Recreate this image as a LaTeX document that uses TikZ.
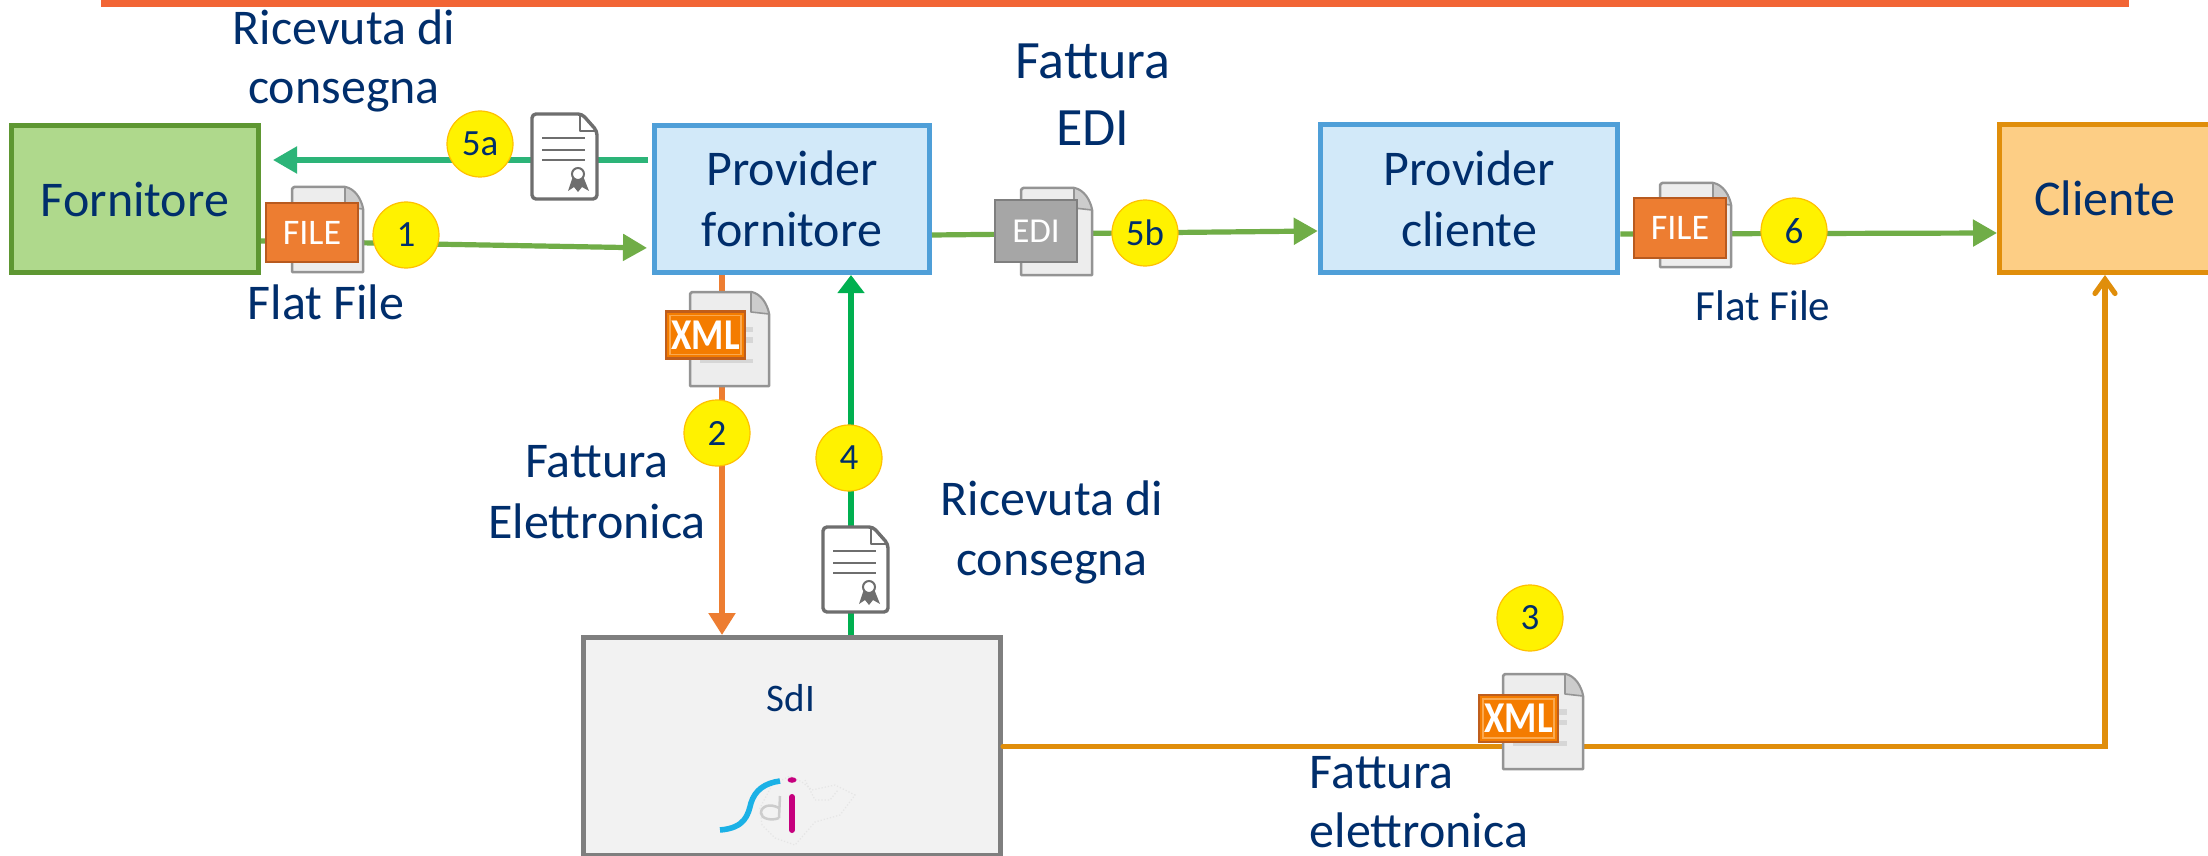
\documentclass[tikz,border=0pt]{standalone}
\usepackage{fontspec}
\setmainfont{Carlito}
\usetikzlibrary{arrows.meta,calc}
\definecolor{ink}{HTML}{002E6C}
\definecolor{barc}{HTML}{F26535}
\definecolor{gs}{HTML}{5E9732}\definecolor{gf}{HTML}{AFD98C}
\definecolor{bs}{HTML}{4F9FD8}\definecolor{bf}{HTML}{D2E9F9}
\definecolor{os}{HTML}{E08E0B}\definecolor{of}{HTML}{FDCE85}
\definecolor{gys}{HTML}{7F7F7F}\definecolor{gyf}{HTML}{F2F2F2}
\definecolor{lg}{HTML}{70AD47}\definecolor{teal}{HTML}{2CB478}\definecolor{dg}{HTML}{00B050}
\definecolor{org}{HTML}{ED7D31}\definecolor{xmlf}{HTML}{F47C00}\definecolor{files}{HTML}{B85A1F}
\definecolor{xmlin}{HTML}{FBA94F}
\definecolor{ypen}{HTML}{FFC000}\definecolor{certc}{HTML}{6E6E6E}
\definecolor{logoc}{HTML}{1BB1E6}\definecolor{logom}{HTML}{C6007E}
\newcommand{\sheet}[4]{%
 \draw[line width=1.25pt,draw=black!42,fill=black!7,line join=round]
  (#1+2,#2)--(#1+#3-18,#2) .. controls (#1+#3-8,#2+2) and (#1+#3-2,#2+12) .. (#1+#3,#2+22)--(#1+#3,#2+#4)--(#1,#2+#4)--(#1,#2+2)--cycle;
 \draw[line width=.8pt,draw=black!42,fill=black!20,line join=round]
  (#1+#3-18,#2)--(#1+#3-18,#2+20)--(#1+#3,#2+22) .. controls (#1+#3-2,#2+12) and (#1+#3-8,#2+2) .. cycle;}
\newcommand{\xmlbars}[4]{%
 \fill[black!16] (#1+10,#2+.37*#4) rectangle (#1+.8*#3,#2+.43*#4);
 \fill[black!16] (#1+10,#2+.48*#4) rectangle (#1+.8*#3,#2+.54*#4);
 \fill[black!16] (#1+10,#2+.71*#4) rectangle (#1+.8*#3,#2+.76*#4);}
\newcommand{\cert}[2]{%
 \draw[line width=1.7pt,draw=certc,fill=white,rounded corners=2pt,line join=round]
  (#1,#2)--(#1+50,#2)--(#1+65,#2+17)--(#1+65,#2+85)--(#1,#2+85)--cycle;
 \draw[line width=1.3pt,draw=certc,line join=round] (#1+48,#2+1)--(#1+48,#2+17)--(#1+64,#2+17);
 \draw[line width=1pt,draw=certc]
  (#1+10,#2+24)--(#1+53,#2+24) (#1+10,#2+36)--(#1+53,#2+36) (#1+10,#2+46)--(#1+53,#2+46);
 \fill[certc] (#1+41,#2+62)--(#1+36,#2+77)--(#1+42,#2+73)--(#1+46,#2+78)--(#1+50,#2+73)--(#1+57,#2+77)--(#1+51,#2+62)--cycle;
 \draw[line width=1pt,draw=certc,fill=white] (#1+46,#2+60) circle[radius=6];}
\tikzset{
 x=0.5pt,y=-0.5pt,
 every node/.style={text=ink,font=\fontsize{25}{30.5}\selectfont,inner sep=0pt,outer sep=0pt},
 boxnode/.style={draw,line width=2.5pt,minimum height=73.5pt,align=center,outer sep=1.25pt},
 label/.style={align=center},
 badge/.style={circle,draw=ypen,line width=.6pt,fill=yellow,minimum size=33pt,font=\fontsize{18.5}{20}\selectfont},
 tagbox/.style={draw,line width=1.2pt,text=white,font=\fontsize{18}{20}\selectfont},
 xmltag/.style={tagbox,draw=files!90!orange,fill=xmlf,font=\fontsize{22}{24}\selectfont\bfseries,minimum width=39.5pt,minimum height=23.5pt},
 xmlrim/.style={draw=xmlin,line width=.8pt},
 conn/.style={line width=2.6pt},
 head/.style={-{Triangle[length=12pt,width=13pt]}},
}
\begin{document}
\begin{tikzpicture}
\useasboundingbox (0,0) rectangle (2208,856);
\clip (0,0) rectangle (2208,856);
\fill[white] (0,0) rectangle (2208,856);
\fill[barc] (101,-2) rectangle (2129,7);
% boxes
\node[boxnode,draw=gs,fill=gf,minimum width=123.5pt] (forn) at (135,199) {Fornitore};
\node[boxnode,draw=bs,fill=bf,minimum width=137.5pt] (pf) at (792,199) {Provider\\fornitore};
\node[boxnode,draw=bs,fill=bf,minimum width=148.75pt,minimum height=74pt] (pc) at (1469,198.5) {Provider\\cliente};
\node[boxnode,draw=os,fill=of,minimum width=105.5pt,minimum height=74pt] (cl) at (2105,198.5) {Cliente};
\node[boxnode,draw=gys,fill=gyf,minimum width=208.5pt,minimum height=109pt] (sdi) at (792,746.5) {};
\node[font=\fontsize{19.5}{22}\selectfont,anchor=base] (sdilabel) at (791,711) {SdI};
% connectors
\draw[conn,teal,head,shorten <=2pt,shorten >=6pt] ([yshift=19.5pt]pf.west) -- ([yshift=19.5pt]forn.east);
\draw[conn,lg,head,shorten >=2.5pt] ([yshift=-21pt]forn.east) -- ([yshift=-24.5pt]pf.west);
\draw[conn,org,-{Triangle[length=11pt,width=13pt]}] ([xshift=-35pt]pf.south) -- ([xshift=-35pt]sdi.north);
\draw[conn,dg,-{Triangle[length=9pt,width=13pt]}] ([xshift=29.5pt]sdi.north) -- ([xshift=29.5pt]pf.south);
\draw[conn,lg,head] ([yshift=-18pt]pf.east) -- ([yshift=-16.25pt]pc.west);
\draw[conn,lg,head] ([yshift=-17.75pt]pc.east) -- ([yshift=-17.25pt]cl.west);
\draw[conn,os,line cap=round,-{Straight Barb[length=7pt,width=10pt,line cap=round]}] (sdi.east) -| (cl.south);
% documents
\sheet{292}{187}{71}{85}
\node[tagbox,draw=files,fill=org,minimum width=46pt,minimum height=29.5pt] (tagfile1) at (312,232.5) {FILE};
\sheet{1660}{183}{71}{84}
\node[tagbox,draw=files,fill=org,minimum width=46pt,minimum height=30pt] (tagfile2) at (1680,228) {FILE};
\sheet{1021}{188}{71}{87}
\node[tagbox,draw=gys,fill=black!35,font=\fontsize{17.5}{20}\selectfont,minimum width=41pt,minimum height=31pt] (tagedi) at (1036,231) {EDI};
\sheet{690}{292}{79}{94}
\xmlbars{690}{292}{79}{94}
\node[xmltag] (tagxml1) at (705.5,335) {\scalebox{.84}[1]{XML}};
\draw[xmlrim] ([xshift=2pt,yshift=-2pt]tagxml1.north west) rectangle ([xshift=-2pt,yshift=2pt]tagxml1.south east);
\sheet{1503}{674}{80}{95}
\xmlbars{1503}{674}{80}{95}
\node[xmltag] (tagxml2) at (1518.5,718.5) {\scalebox{.84}[1]{XML}};
\draw[xmlrim] ([xshift=2pt,yshift=-2pt]tagxml2.north west) rectangle ([xshift=-2pt,yshift=2pt]tagxml2.south east);
\cert{532}{114}
\cert{823}{527}
% badges
\node[badge] (b5a) at (480,144) {5a};
\node[badge] (b1) at (406,235) {1};
\node[badge] (b2) at (717,433) {2};
\node[badge] (b4) at (849,458) {4};
\node[badge] (b5b) at (1145,233) {5b};
\node[badge] (b6) at (1794,231) {6};
\node[badge] (b3) at (1530,618) {3};
% labels
\node[label,anchor=base,font=\fontsize{25}{29.5}\selectfont] (t1) at (344,104) {Ricevuta di\\consegna};
\node[anchor=base] (t2) at (326,319) {Flat File};
\node[label,anchor=base,font=\fontsize{27}{33.5}\selectfont] (t3) at (1093,146) {Fattura\\EDI};
\node[anchor=base,font=\fontsize{21.5}{26}\selectfont] (t4) at (1763,321) {Flat File};
\node[label,anchor=base] (t5) at (597,538) {Fattura\\Elettronica};
\node[label,anchor=base,font=\fontsize{25}{30}\selectfont] (t6) at (1052,575) {Ricevuta di\\consegna};
\node[label,anchor=base,align=left,font=\fontsize{25}{29.5}\selectfont] (t7) at (1419,847) {Fattura\\elettronica};
% logo
\draw[black!10,line width=.6pt,densely dotted] (762,825)--(760,808)--(772,785)--(790,776)--(802,782)--(812,790)--(835,785)--(855,795)--(840,815)--(815,822)--(795,845)--(775,838)--cycle;
\draw[black!10,line width=.6pt,densely dotted] (805,780)--(815,800)--(830,800)--(838,790);
\draw[line width=2.8pt,logoc] (720,830) .. controls (745,828) and (748,815) .. (751,803) .. controls (755,790) and (765,783) .. (780,781);
\draw[line width=1.25pt,black!20] (780,796)--(779,818) (779,808) .. controls (770,803) and (761,806) .. (761,813) .. controls (761,819) and (772,821) .. (779,818);
\draw[line width=3pt,logom,line cap=round] (792,797)--(792,830);
\fill[logom] (792,780) ellipse[x radius=4.5,y radius=2.8];
\end{tikzpicture}
\end{document}
